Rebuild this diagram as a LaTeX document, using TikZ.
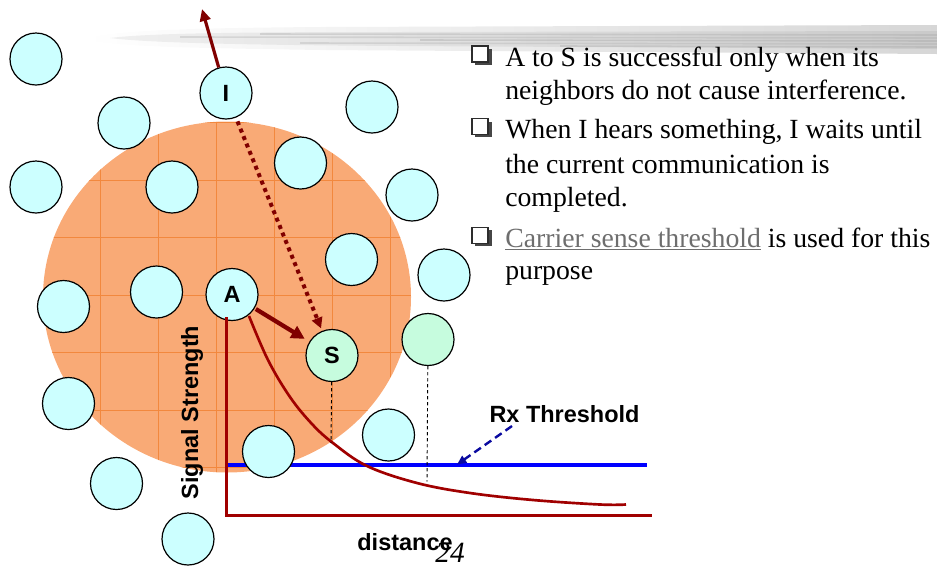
\documentclass[tikz,border=0pt]{standalone}
\usepackage{fontspec}
\setmainfont{Liberation Serif}
\setsansfont{Liberation Sans}
\usetikzlibrary{arrows.meta}
\definecolor{nodecyan}{RGB}{204,255,255}
\definecolor{nodemint}{RGB}{198,252,222}
\definecolor{rangeorange}{RGB}{249,170,118}
\definecolor{gridorange}{RGB}{242,136,62}
\definecolor{arrowred}{RGB}{128,0,0}
\definecolor{plotred}{RGB}{160,0,0}
\definecolor{navyblue}{RGB}{10,10,160}
\definecolor{linkgray}{RGB}{110,110,110}

\begin{document}
\begin{tikzpicture}[x=0.75pt,y=-0.75pt,
  station/.style={circle,draw=black,line width=0.9pt,fill=nodecyan,
    minimum size=39pt,inner sep=0pt,
    font=\sffamily\bfseries\fontsize{17.6}{20}\selectfont},
  receiver/.style={station,fill=nodemint},
  bodytext/.style={anchor=base west,inner sep=0pt,
    font=\fontsize{20.8}{25}\selectfont},
  labeltext/.style={anchor=base,inner sep=0pt,
    font=\sffamily\bfseries\fontsize{17.6}{20}\selectfont},
  axisline/.style={draw=plotred,line width=2pt},
  guide/.style={draw=black,line width=0.7pt,dash pattern=on 2.5pt off 2pt},
  sendarrow/.style={draw=arrowred,line width=3.2pt,
    -{Triangle[length=10pt,width=10pt]}},
  leavearrow/.style={draw=arrowred,line width=2.4pt,
    -{Triangle[length=9pt,width=8pt]}},
  hearpath/.style={draw=arrowred,line width=3pt,dash pattern=on 3pt off 3pt,
    -{Triangle[length=8pt,width=8pt]}},
]
\useasboundingbox (0,0) rectangle (937,565);

% brush stroke under the title area
\shade[left color=white,right color=gray!32]
  (85,39) .. controls (110,30) and (200,28) .. (320,27) -- (937,25)
  -- (937,54) -- (320,50) .. controls (200,48) and (110,47) .. (85,39) -- cycle;
\shade[left color=gray!12,right color=gray!42]
  (110,38) .. controls (150,33) and (250,32) .. (400,32) -- (937,31)
  -- (937,49) -- (400,46) .. controls (250,45) and (150,43) .. (110,38) -- cycle;
\foreach \yy/\xa/\op in {34/260/0.35,37/180/0.3,40/420/0.4,43/300/0.3,46/560/0.35}
  \draw[gray!70,line width=1.2pt,opacity=\op] (\xa,\yy) -- (937,\yy+1);

% carrier-sense range of A
\begin{scope}
  \clip (227,297) ellipse [x radius=184, y radius=175.5];
  \fill[rangeorange] (40,120) rectangle (415,475);
  \foreach \gx in {42,100,158,216,274,332,390}
    \draw[gridorange,line width=0.55pt] (\gx,120) -- (\gx,475);
  \foreach \gy in {122.5,180,237.5,295,352.5,410,467.5}
    \draw[gridorange,line width=0.55pt] (40,\gy) -- (415,\gy);
\end{scope}

% signal strength plot: threshold line sits under the stations
\coordinate (thL) at (226,465);
\coordinate (thR) at (647,465);
\draw[blue,line width=2.3pt] (thL) -- (thR);

% stations
\node[station] (n1) at (36,59) {};
\node[station] (I) at (226,93) {I};
\node[station] (n2) at (124,123) {};
\node[station] (n3) at (372,107) {};
\node[station] (n4) at (36,187) {};
\node[station] (n5) at (172,187) {};
\node[station] (n6) at (300.5,163) {};
\node[station] (n7) at (412,195) {};
\node[station] (n8) at (351.5,259.5) {};
\node[station] (n9) at (444,275) {};
\node[station] (n10) at (156.5,292) {};
\node[station] (A) at (232,294.5) {A};
\node[station] (n11) at (63.5,306.5) {};
\node[receiver] (S) at (332,355.5) {S};
\node[receiver] (G) at (428,339.5) {};
\node[station] (n12) at (68.5,403.5) {};
\node[station] (n13) at (388.5,435) {};
\node[station] (n14) at (268.5,451.5) {};
\node[station] (n15) at (116.5,483.5) {};
\node[station] (n16) at (188,539) {};

% transmissions
\coordinate (away) at (202,9);
\draw[leavearrow] (I) -- (away);
\draw[hearpath,shorten <=3pt,shorten >=2pt] (I) -- (S);
\draw[sendarrow,shorten <=1pt,shorten >=4pt] (A) -- (S);

% axes and decay curve
\coordinate (ytop) at (226.5,317);
\coordinate (xend) at (652,515.5);
\draw[axisline] (ytop) |- (xend);
\draw[plotred,line width=2pt] plot[smooth,tension=0.6] coordinates
  {(249,316) (268,360) (290,397) (312,424) (333,443) (367,466) (417,483)
   (470,493) (533,500) (600,504.5) (626,504.5)};

% distance marks for S and the far node
\coordinate (sHit) at (331,443);
\coordinate (gHit) at (427,481.5);
\draw[guide] (S) -- (sHit);
\draw[guide] (G) -- (gHit);

% plot labels
\node[labeltext] (rx) at (564.5,422.5) {Rx Threshold};
\coordinate (rxFrom) at (512,426);
\coordinate (rxTo) at (457,464.5);
\draw[navyblue,line width=1.8pt,dash pattern=on 6pt off 3.5pt,
  -{Triangle[length=7pt,width=6pt]}] (rxFrom) -- (rxTo);
\node[labeltext,rotate=90,anchor=center] (ylab) at (192,412.5) {Signal Strength};
\node[labeltext] (xlab) at (405,550) {distance};
\node[anchor=base,inner sep=0pt,font=\itshape\fontsize{22}{24}\selectfont]
  (pg) at (450,562) {24};

% bullet list
\foreach \b in {66,138.7,247.3} {
  \fill[gray!55!black] (475,\b-17) rectangle (491.5,\b-1.5);
  \draw[fill=white,draw=gray!35!black,line width=0.8pt] (472,\b-20) rectangle (488,\b-4);
}
\node[bodytext] (t1) at (505,66) {A to S is successful only when its};
\node[bodytext] (t2) at (505,99) {neighbors do not cause interference.};
\node[bodytext] (t3) at (505,138.7) {When I hears something, I waits until};
\node[bodytext] (t4) at (505,173.3) {the current communication is};
\node[bodytext] (t5) at (505,206) {completed.};
\node[bodytext] (t6) at (505,247.3)
  {\textcolor{linkgray}{\underline{Carrier sense threshold}} is used for this};
\node[bodytext] (t7) at (505,279.3) {purpose};
\end{tikzpicture}
\end{document}
